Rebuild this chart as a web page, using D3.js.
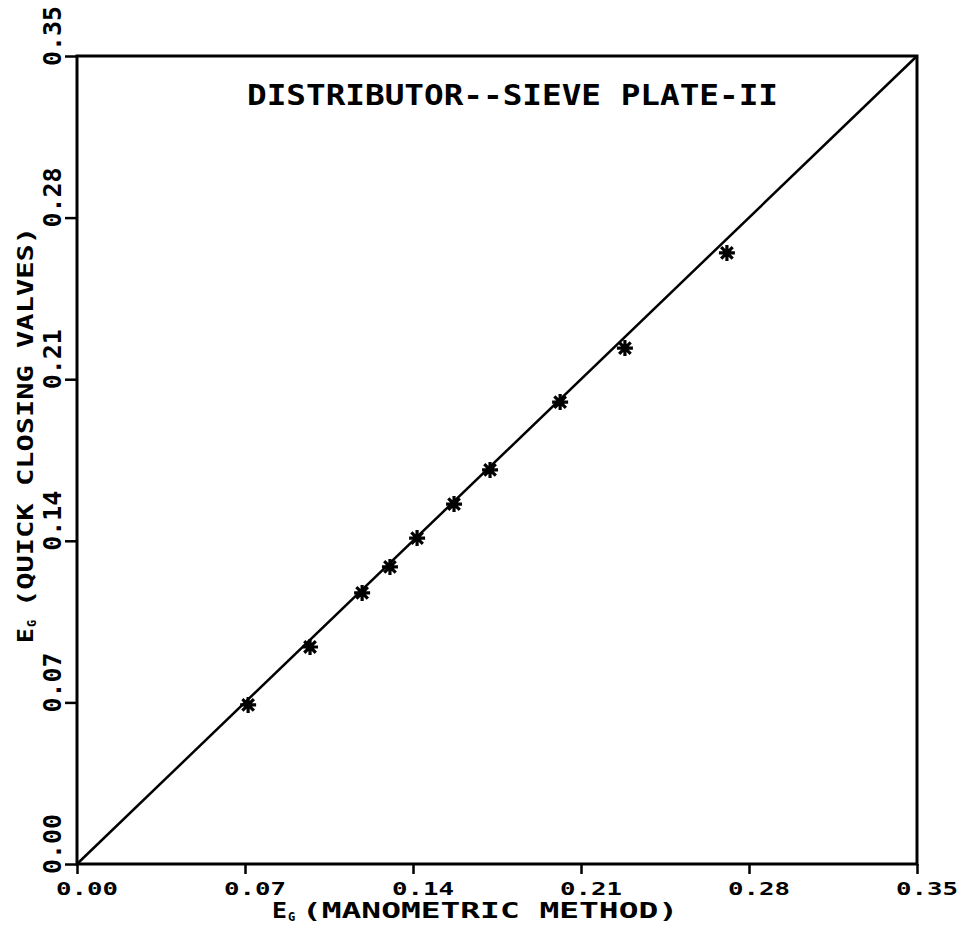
<!DOCTYPE html>
<html>
<head>
<meta charset="utf-8">
<script src="https://cdn.jsdelivr.net/npm/d3@7"></script>
<style>
  html, body { margin: 0; padding: 0; background: #fff; }
  text { font-family: "DejaVu Sans Mono", monospace; font-weight: bold; fill: #000; }
</style>
</head>
<body>
<svg id="chart" width="972" height="932"></svg>
<script>
const xTicks = [0.00, 0.07, 0.14, 0.21, 0.28, 0.35];
const yTicks = [0.00, 0.07, 0.14, 0.21, 0.28, 0.35];
const xLabels = ["0.00", "0.07", "0.14", "0.21", "0.28", "0.35"];
const yLabels = ["0.00", "0.07", "0.14", "0.21", "0.28", "0.35"];
const eManometric = [0.0713, 0.0971, 0.1188, 0.1304, 0.1417, 0.1571, 0.1721, 0.2013, 0.2283, 0.2708];
const eQuickClosing = [0.0689, 0.0940, 0.1174, 0.1287, 0.1412, 0.1559, 0.1707, 0.2001, 0.2235, 0.2647];
const parityLine = [[0, 0], [0.35, 0.35]];
const title = "DISTRIBUTOR--SIEVE PLATE-II";
const xTitle = "(MANOMETRIC METHOD)";
const yTitle = "(QUICK CLOSING VALVES)";

const svg = d3.select("#chart");
const pLeft = 77, pRight = 917, pTop = 56, pBottom = 864;
const x = d3.scaleLinear().domain([0, 0.35]).range([pLeft, pRight]);
const y = d3.scaleLinear().domain([0, 0.35]).range([pBottom, pTop]);

// frame
svg.append("rect").attr("x", pLeft).attr("y", pTop)
  .attr("width", pRight - pLeft).attr("height", pBottom - pTop)
  .attr("fill", "none").attr("stroke", "#000").attr("stroke-width", 3);

// x axis ticks
const xAxis = d3.axisBottom(x).tickValues(xTicks).tickSize(10).tickFormat("");
const gx = svg.append("g").attr("transform", `translate(0,${pBottom})`).call(xAxis);
gx.select(".domain").remove();
gx.selectAll("line").attr("stroke", "#000").attr("stroke-width", 2.5);
svg.append("g").selectAll("text").data(xTicks).join("text")
  .attr("x", (d) => x(d) + 10).attr("y", 895)
  .attr("text-anchor", "middle").attr("font-size", 18)
  .attr("textLength", 62).attr("lengthAdjust", "spacingAndGlyphs")
  .text((d, i) => xLabels[i]);

// y axis ticks
const yAxis = d3.axisLeft(y).tickValues(yTicks).tickSize(12).tickFormat("");
const gy = svg.append("g").attr("transform", `translate(${pLeft},0)`).call(yAxis);
gy.select(".domain").remove();
gy.selectAll("line").attr("stroke", "#000").attr("stroke-width", 2.5);
svg.append("g").selectAll("text").data(yTicks).join("text")
  .attr("transform", (d) => `translate(61,${y(d) - 20}) rotate(-90)`)
  .attr("text-anchor", "middle").attr("font-size", 24)
  .attr("textLength", 60).attr("lengthAdjust", "spacingAndGlyphs")
  .text((d, i) => yLabels[i]);

// parity line
const line = d3.line().x((d) => x(d[0])).y((d) => y(d[1]));
svg.append("path").datum(parityLine).attr("d", line)
  .attr("fill", "none").attr("stroke", "#000").attr("stroke-width", 2.5);

// asterisk markers
const pts = eManometric.map((v, i) => [v, eQuickClosing[i]]);
const r = 8;
const star = `M${-r},0L${r},0M0,${-r}L0,${r}M${-r*0.72},${-r*0.72}L${r*0.72},${r*0.72}M${-r*0.72},${r*0.72}L${r*0.72},${-r*0.72}`;
svg.append("g").selectAll("path").data(pts).join("path")
  .attr("transform", (d) => `translate(${x(d[0])},${y(d[1])})`)
  .attr("d", star).attr("stroke", "#000").attr("stroke-width", 3.2).attr("fill", "none");
svg.append("g").selectAll("circle").data(pts).join("circle")
  .attr("cx", (d) => x(d[0])).attr("cy", (d) => y(d[1])).attr("r", 3.5).attr("fill", "#000");

// title
svg.append("text").attr("x", 247).attr("y", 105)
  .attr("font-size", 29).attr("font-weight", "normal")
  .attr("textLength", 531).attr("lengthAdjust", "spacingAndGlyphs")
  .text(title);

// x axis title
const xg = svg.append("g").attr("transform", "translate(272,918)");
xg.append("text").attr("font-size", 21).attr("textLength", 15)
  .attr("lengthAdjust", "spacingAndGlyphs").text("E");
xg.append("text").attr("x", 16).attr("y", 3).attr("font-size", 12).text("G");
xg.append("text").attr("x", 30).attr("font-size", 21).attr("textLength", 376)
  .attr("lengthAdjust", "spacingAndGlyphs").text(xTitle);

// y axis title
const yg = svg.append("g").attr("transform", "translate(33,643) rotate(-90)");
yg.append("text").attr("font-size", 21).attr("textLength", 15)
  .attr("lengthAdjust", "spacingAndGlyphs").text("E");
yg.append("text").attr("x", 16).attr("y", 3).attr("font-size", 12).text("G");
yg.append("text").attr("x", 36).attr("font-size", 21).attr("textLength", 380)
  .attr("lengthAdjust", "spacingAndGlyphs").text(yTitle);
</script>
</body>
</html>
